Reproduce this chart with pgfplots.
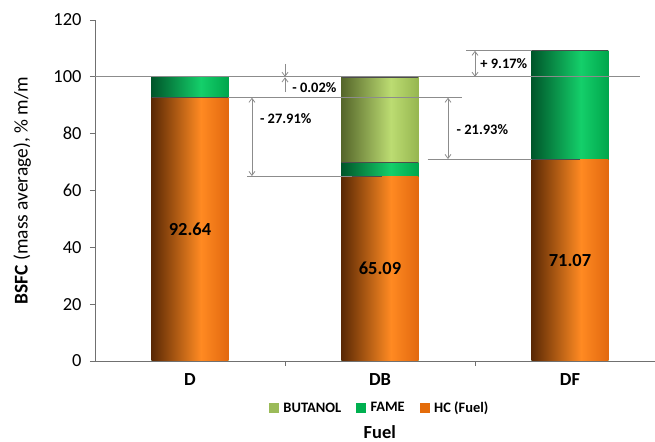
\documentclass[border=0pt]{standalone}
\usepackage{fontspec}
\setmainfont{Carlito}
\usepackage{pgfplots}
\pgfplotsset{compat=1.18}
\usetikzlibrary{arrows.meta}
\definecolor{hcA}{HTML}{5A2804}
\definecolor{hcB}{HTML}{FF8A22}
\definecolor{hcC}{HTML}{E2680E}
\definecolor{faA}{HTML}{00562A}
\definecolor{faB}{HTML}{14CF6A}
\definecolor{faC}{HTML}{00A64C}
\definecolor{buA}{HTML}{55662A}
\definecolor{buB}{HTML}{BCDC72}
\definecolor{buC}{HTML}{96B650}
\definecolor{hcL}{HTML}{E46C0A}
\definecolor{faL}{HTML}{00B050}
\definecolor{buL}{HTML}{9BBB59}
\definecolor{axgray}{HTML}{707070}
\definecolor{dimgray}{HTML}{8C8C8C}
\pgfdeclarehorizontalshading{hcsh}{100bp}{color(0bp)=(hcA); color(25bp)=(hcA); color(57bp)=(hcB); color(75bp)=(hcC); color(100bp)=(hcC)}
\pgfdeclarehorizontalshading{fash}{100bp}{color(0bp)=(faA); color(25bp)=(faA); color(57bp)=(faB); color(75bp)=(faC); color(100bp)=(faC)}
\pgfdeclarehorizontalshading{bush}{100bp}{color(0bp)=(buA); color(25bp)=(buA); color(57bp)=(buB); color(75bp)=(buC); color(100bp)=(buC)}
\begin{document}
\begin{tikzpicture}
\path[use as bounding box] (0,0) rectangle (655bp,442bp);
\begin{axis}[
  scale only axis,
  width=560.5bp, height=341bp,
  at={(95bp,81bp)}, anchor=south west,
  xmin=-0.5, xmax=2.45,
  ymin=0, ymax=120,
  clip=false,
  axis x line=bottom, axis y line=left,
  axis line style={draw=axgray, line width=0.9pt, -},
  ybar, bar shift=0pt,
  bar width=0.405,
  xtick={0,1,2},
  xticklabels={D,DB,DF},
  minor xtick={0.5,1.5},
  ytick={0,20,40,60,80,100,120},
  tick align=outside,
  major tick length=5bp,
  minor tick length=5bp,
  x tick style={draw=none},
  minor x tick style={draw=axgray, line width=0.9pt},
  y tick style={draw=axgray, line width=0.9pt},
  tick label style={font=\fontsize{18.5}{20}\selectfont},
  y tick label style={xshift=-5bp},
  x tick label style={font=\fontsize{18.5}{20}\selectfont\bfseries, yshift=-4bp},
  /pgf/number format/assume math mode=true,
  xlabel={\textbf{Fuel}},
  xlabel style={font=\fontsize{18.5}{20}\selectfont, at={(axis description cs:0.508,-0.208)}, anchor=center},
  ylabel={\textbf{BSFC} (mass average), \% m/m},
  ylabel style={font=\fontsize{19.5}{21}\selectfont, at={(axis description cs:-0.13,0.5)}, anchor=center},
  legend style={at={(axis description cs:0.508,-0.138)}, anchor=center, draw=none, fill=none,
    legend columns=3, font=\fontsize{14.5}{16}\selectfont\bfseries,
    /tikz/every odd column/.append style={column sep=3bp},
    /tikz/every even column/.append style={column sep=13bp}},
  legend cell align=left,
]
% cumulative tops, drawn from the back to the front
\addplot[forget plot, draw=none, shade, shading=fash] coordinates {(0,100.00)};
\addplot[forget plot, draw=none, shade, shading=hcsh] coordinates {(0,92.64)};
\addplot[forget plot, draw=none, shade, shading=bush] coordinates {(1,99.98)};
\addplot[forget plot, draw=none, shade, shading=fash] coordinates {(1,69.79)};
\addplot[forget plot, draw=none, shade, shading=hcsh] coordinates {(1,65.09)};
\addplot[forget plot, draw=none, shade, shading=fash] coordinates {(2,109.17)};
\addplot[forget plot, draw=none, shade, shading=hcsh] coordinates {(2,71.07)};
\addlegendimage{legend image code/.code={\fill[buL] (-2bp,-4.5bp) rectangle (7bp,4.5bp);}}
\addlegendentry{BUTANOL}
\addlegendimage{legend image code/.code={\fill[faL] (-2bp,-4.5bp) rectangle (7bp,4.5bp);}}
\addlegendentry{FAME}
\addlegendimage{legend image code/.code={\fill[hcL] (-2bp,-4.5bp) rectangle (7bp,4.5bp);}}
\addlegendentry{HC (Fuel)}
% segment top edges
\draw[black!70, line width=0.6pt] (axis cs:-0.2025,92.64) -- (axis cs:0.2025,92.64);
\draw[black!70, line width=0.6pt] (axis cs:0.7975,69.79) -- (axis cs:1.2025,69.79);
\draw[black!70, line width=0.6pt] (axis cs:0.7975,99.98) -- (axis cs:1.2025,99.98);
\draw[black!70, line width=0.6pt] (axis cs:1.7975,109.17) -- (axis cs:2.2025,109.17);
% value labels
\node[font=\fontsize{18.5}{20}\selectfont\bfseries] at (axis cs:0,46.3) {92.64};
\node[font=\fontsize{18.5}{20}\selectfont\bfseries] at (axis cs:1,32.5) {65.09};
\node[font=\fontsize{18.5}{20}\selectfont\bfseries] at (axis cs:2,35.5) {71.07};
% reference lines
\draw[dimgray, line width=0.8pt] (axis cs:-0.5,100) -- (axis cs:2.37,100);
\draw[dimgray, line width=0.8pt] (axis cs:0.2025,92.64) -- (axis cs:1.43,92.64);
\draw[dimgray, line width=0.8pt] (axis cs:0.30,65.09) -- (axis cs:0.85,65.09);
\draw[black!70, line width=0.8pt] (axis cs:0.85,65.09) -- (axis cs:1.01,65.09);
\draw[dimgray, line width=0.8pt] (axis cs:1.25,71.07) -- (axis cs:1.8,71.07);
\draw[black!70, line width=0.8pt] (axis cs:1.8,71.07) -- (axis cs:2.05,71.07);
\draw[dimgray, line width=0.8pt] (axis cs:1.455,109.17) -- (axis cs:1.7975,109.17);
% arrows
\draw[dimgray, line width=0.8pt, {Straight Barb[length=4bp,width=6bp]}-{Straight Barb[length=4bp,width=6bp]}] (axis cs:0.326,92.64) -- (axis cs:0.326,65.09);
\draw[dimgray, line width=0.8pt, -{Straight Barb[length=4bp,width=6bp]}] (axis cs:0.5,104.6) -- (axis cs:0.5,100);
\draw[dimgray, line width=0.8pt, -{Straight Barb[length=4bp,width=6bp]}] (axis cs:0.5,94.6) -- (axis cs:0.5,99.8);
\draw[dimgray, line width=0.8pt, {Straight Barb[length=4bp,width=6bp]}-{Straight Barb[length=4bp,width=6bp]}] (axis cs:1.358,92.64) -- (axis cs:1.358,71.07);
\draw[dimgray, line width=0.8pt, {Straight Barb[length=4bp,width=6bp]}-{Straight Barb[length=4bp,width=6bp]}] (axis cs:1.5,109.17) -- (axis cs:1.5,100);
% annotation texts
\node[font=\fontsize{14.5}{16}\selectfont\bfseries, anchor=west] at (axis cs:0.35,85.2) {- 27.91\%};
\node[font=\fontsize{14.5}{16}\selectfont\bfseries, anchor=west] at (axis cs:0.52,96.2) {- 0.02\%};
\node[font=\fontsize{14.5}{16}\selectfont\bfseries, anchor=west] at (axis cs:1.385,81.3) {- 21.93\%};
\node[font=\fontsize{14.5}{16}\selectfont\bfseries, anchor=west] at (axis cs:1.51,104.5) {+ 9.17\%};
\end{axis}
\end{tikzpicture}
\end{document}
